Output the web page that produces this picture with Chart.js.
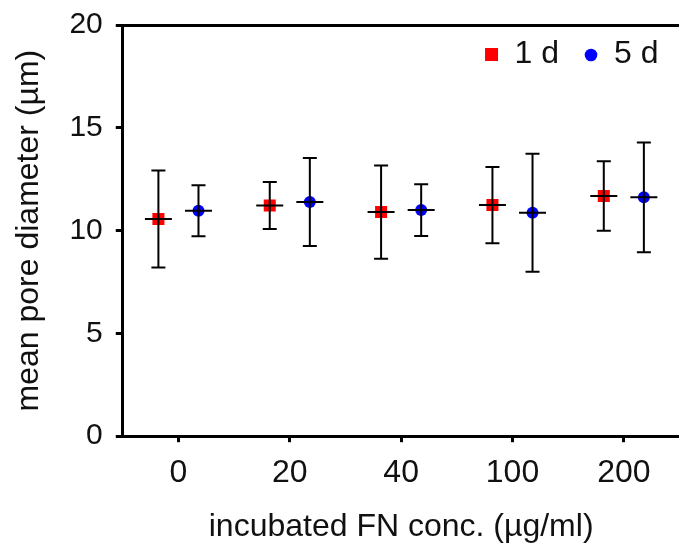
<!DOCTYPE html>
<html>
<head>
<meta charset="utf-8">
<script src="https://cdn.jsdelivr.net/npm/chart.js@4/dist/chart.umd.min.js"></script>
<style>
  html, body { margin: 0; padding: 0; background: #fff; overflow: hidden; }
  #wrap { width: 679px; height: 550px; overflow: hidden; }
</style>
</head>
<body>
<div id="wrap"><canvas id="poreChart" width="688" height="550"></canvas></div>
<script>
// --- data ---
const categories = ['0', '20', '40', '100', '200'];   // incubated FN conc. (µg/ml)
const day1Mean = [10.56, 11.22, 10.90, 11.24, 11.68];
const day1Err  = [2.36, 1.14, 2.27, 1.85, 1.69];
const day5Mean = [10.96, 11.39, 11.00, 10.87, 11.62];
const day5Err  = [1.24, 2.14, 1.26, 2.87, 2.67];
const yTicks = [0, 5, 10, 15, 20];

const shift = 0.18; // side-by-side offset within each category

function toPoints(means, errs, dx) {
    return means.map((m, i) => ({ x: i + dx, y: m, err: errs[i] }));
}

const family = '"Liberation Sans", Arial, sans-serif';

// error bars + the short horizontal dash at each mean
const errorBars = {
    id: 'errorBars',
    afterDatasetsDraw(chart) {
        const { ctx, scales: { x, y } } = chart;
        ctx.save();
        ctx.strokeStyle = '#000';
        ctx.lineWidth = 2;
        chart.data.datasets.forEach(ds => {
            ds.data.forEach(p => {
                const px = x.getPixelForValue(p.x);
                const py = y.getPixelForValue(p.y);
                const top = y.getPixelForValue(p.y + p.err);
                const bot = y.getPixelForValue(p.y - p.err);
                ctx.beginPath();
                ctx.moveTo(px, top); ctx.lineTo(px, bot);
                ctx.moveTo(px - 7, top); ctx.lineTo(px + 7, top);
                ctx.moveTo(px - 7, bot); ctx.lineTo(px + 7, bot);
                ctx.moveTo(px - 13.5, py); ctx.lineTo(px + 13.5, py);
                ctx.stroke();
            });
        });
        ctx.restore();
    }
};

// legend in the top-right corner of the plot area
const cornerLegend = {
    id: 'cornerLegend',
    afterDraw(chart) {
        const { ctx, chartArea } = chart;
        ctx.save();
        ctx.font = '32px ' + family;
        ctx.textBaseline = 'middle';
        const yMid = chartArea.top + 29;
        let right = chartArea.right - 21;
        const items = chart.data.datasets.slice().reverse();
        items.forEach(ds => {
            const w = ctx.measureText(ds.label).width;
            const tx = right - w;
            ctx.fillStyle = '#111';
            ctx.fillText(ds.label, tx, yMid);
            const cx = tx - 23;
            ctx.fillStyle = ds.backgroundColor;
            if (ds.pointStyle === 'rect') {
                ctx.fillRect(cx - 6.5, yMid - 6, 13, 13);
            } else {
                ctx.beginPath();
                ctx.arc(cx, yMid + 1, 6.3, 0, Math.PI * 2);
                ctx.fill();
            }
            right = cx - 32;
        });
        ctx.restore();
    }
};

new Chart(document.getElementById('poreChart'), {
    type: 'scatter',
    data: {
        datasets: [
            {
                label: '1 d',
                data: toPoints(day1Mean, day1Err, -shift),
                backgroundColor: '#ff0000',
                borderColor: '#ff0000',
                pointStyle: 'rect',
                pointRadius: 8.5,
                borderWidth: 0
            },
            {
                label: '5 d',
                data: toPoints(day5Mean, day5Err, shift),
                backgroundColor: '#0000ff',
                borderColor: '#0000ff',
                pointStyle: 'circle',
                pointRadius: 6,
                borderWidth: 0
            }
        ]
    },
    options: {
        responsive: false,
        animation: false,
        layout: { padding: { top: 19, right: 0, bottom: 4, left: 0 } },
        plugins: {
            tooltip: { enabled: false },
            legend: { display: false }
        },
        scales: {
            x: {
                type: 'linear',
                min: -0.5,
                max: 4.5,
                afterBuildTicks: axis => {
                    axis.ticks = categories.map((c, i) => ({ value: i }));
                },
                ticks: {
                    color: '#111',
                    font: { family: family, size: 32 },
                    padding: 12,
                    callback: v => categories[v]
                },
                grid: {
                    drawOnChartArea: false,
                    drawTicks: true,
                    tickLength: 6,
                    tickWidth: 3,
                    tickColor: '#000'
                },
                border: { color: '#000', width: 3 },
                title: {
                    display: true,
                    text: 'incubated FN conc. (µg/ml)',
                    color: '#111',
                    font: { family: family, size: 32 },
                    padding: { top: 3, bottom: 0 }
                }
            },
            y: {
                min: 0,
                max: 20,
                afterBuildTicks: axis => {
                    axis.ticks = yTicks.map(v => ({ value: v }));
                },
                ticks: {
                    color: '#111',
                    font: { family: family, size: 30, lineHeight: 0.8 },
                    padding: 13
                },
                grid: {
                    color: c => (c.tick && c.tick.value === 20 ? '#000' : 'rgba(0,0,0,0)'),
                    lineWidth: 3,
                    tickLength: 7,
                    tickWidth: 3,
                    tickColor: '#000'
                },
                border: { color: '#000', width: 3 },
                title: {
                    display: true,
                    text: 'mean pore diameter (µm)',
                    color: '#111',
                    font: { family: family, size: 32 },
                    padding: { top: 10, bottom: 8 }
                }
            }
        }
    },
    plugins: [errorBars, cornerLegend]
});
</script>
</body>
</html>
